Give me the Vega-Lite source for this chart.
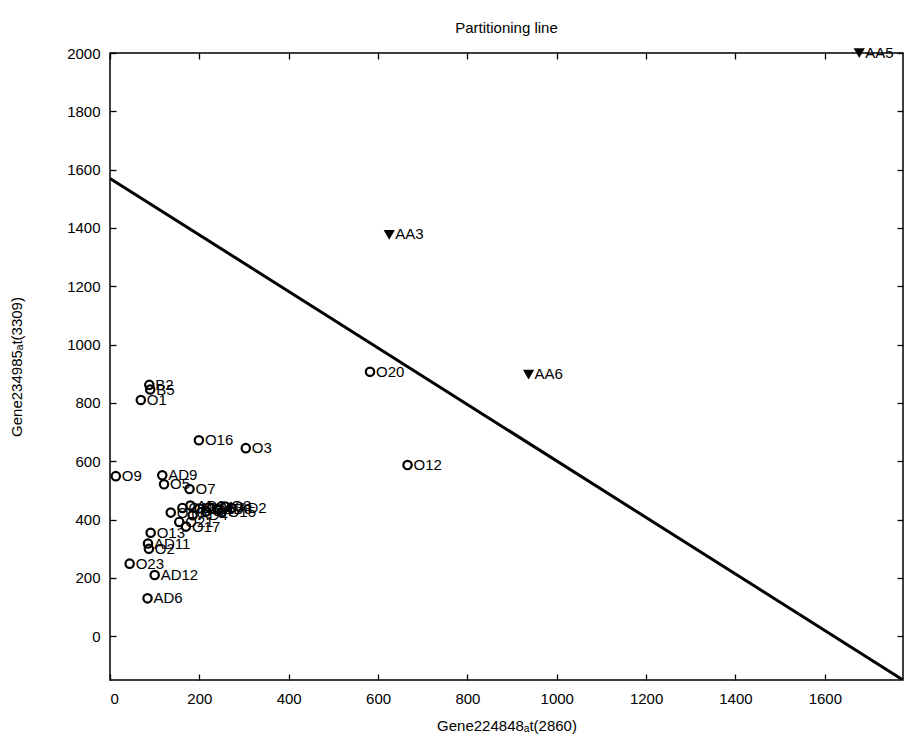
{
  "$schema": "https://vega.github.io/schema/vega-lite/v6.json",
  "width": 793,
  "height": 627,
  "autosize": "none",
  "padding": {"left": 110, "top": 53, "right": 2, "bottom": 67},
  "background": "white",
  "title": {"text": "Partitioning line", "fontSize": 15, "font": "Liberation Sans", "fontWeight": "normal", "color": "black", "offset": 10, "anchor": "middle"},
  "config": {
    "view": {"stroke": "black", "strokeWidth": 1.5},
    "axis": {"labelFont": "Liberation Sans", "labelFontSize": 15, "labelColor": "black", "titleFont": "Liberation Sans", "titleFontSize": 15, "titleFontWeight": "normal", "titleColor": "black", "domain": false, "tickColor": "black", "grid": false, "tickSize": 6, "tickWidth": 1.3, "format": "d"}
  },
  "datasets": {
    "line": [{"x": 0, "y": 1570}, {"x": 1775, "y": -150}],
    "pts": [
      {"name": "AA5", "x": 1677, "y": 2001, "group": "AA"},
      {"name": "AA3", "x": 625, "y": 1378, "group": "AA"},
      {"name": "AA6", "x": 937, "y": 898, "group": "AA"},
      {"name": "O20", "x": 582, "y": 907, "group": "O"},
      {"name": "O12", "x": 666, "y": 587, "group": "O"},
      {"name": "O16", "x": 199, "y": 672, "group": "O"},
      {"name": "O3", "x": 304, "y": 645, "group": "O"},
      {"name": "B2", "x": 88, "y": 862, "group": "O"},
      {"name": "B5", "x": 90, "y": 846, "group": "O"},
      {"name": "O1", "x": 69, "y": 810, "group": "O"},
      {"name": "O9", "x": 13, "y": 549, "group": "O"},
      {"name": "AD9", "x": 117, "y": 552, "group": "O"},
      {"name": "O5", "x": 121, "y": 521, "group": "O"},
      {"name": "O7", "x": 178, "y": 505, "group": "O"},
      {"name": "O10", "x": 136, "y": 424, "group": "O"},
      {"name": "O18", "x": 162, "y": 440, "group": "O"},
      {"name": "AD3", "x": 180, "y": 448, "group": "O"},
      {"name": "O14", "x": 200, "y": 438, "group": "O"},
      {"name": "O19", "x": 222, "y": 442, "group": "O"},
      {"name": "AD8", "x": 240, "y": 436, "group": "O"},
      {"name": "O8", "x": 258, "y": 445, "group": "O"},
      {"name": "AD2", "x": 272, "y": 440, "group": "O"},
      {"name": "O4", "x": 215, "y": 428, "group": "O"},
      {"name": "AD4", "x": 185, "y": 415, "group": "O"},
      {"name": "O15", "x": 250, "y": 425, "group": "O"},
      {"name": "O17", "x": 170, "y": 376, "group": "O"},
      {"name": "O21", "x": 155, "y": 392, "group": "O"},
      {"name": "O13", "x": 91, "y": 355, "group": "O"},
      {"name": "AD11", "x": 85, "y": 318, "group": "O"},
      {"name": "O2", "x": 87, "y": 300, "group": "O"},
      {"name": "O23", "x": 44, "y": 249, "group": "O"},
      {"name": "AD12", "x": 100, "y": 210, "group": "O"},
      {"name": "AD6", "x": 84, "y": 130, "group": "O"}
    ]
  },
  "resolve": {"axis": {"x": "independent", "y": "independent"}},
  "layer": [
    {
      "data": {"name": "line"},
      "mark": {"type": "line", "color": "black", "strokeWidth": 3, "clip": true},
      "encoding": {
        "x": {"field": "x", "type": "quantitative", "scale": {"domain": [0, 1775], "nice": false, "zero": false},
              "axis": {"orient": "bottom", "title": "Gene224848ₐt(2860)", "values": [0, 200, 400, 600, 800, 1000, 1200, 1400, 1600], "ticks": false, "labelPadding": 11, "titlePadding": 12}},
        "y": {"field": "y", "type": "quantitative", "scale": {"domain": [-150, 2000], "nice": false, "zero": false},
              "axis": {"orient": "left", "title": "Gene234985ₐt(3309)", "values": [0, 200, 400, 600, 800, 1000, 1200, 1400, 1600, 1800, 2000], "ticks": false, "labelPadding": 10, "titlePadding": 42}}
      }
    },
    {
      "data": {"name": "line"},
      "mark": {"type": "line", "opacity": 0},
      "encoding": {
        "x": {"field": "x", "type": "quantitative", "axis": {"orient": "bottom", "offset": -6, "title": null, "labels": false, "values": [0, 200, 400, 600, 800, 1000, 1200, 1400, 1600]}},
        "y": {"field": "y", "type": "quantitative", "axis": {"orient": "left", "offset": -6, "title": null, "labels": false, "values": [0, 200, 400, 600, 800, 1000, 1200, 1400, 1600, 1800, 2000]}}
      }
    },
    {
      "data": {"name": "line"},
      "mark": {"type": "line", "opacity": 0},
      "encoding": {
        "x": {"field": "x", "type": "quantitative", "axis": {"orient": "top", "offset": -6, "title": null, "labels": false, "values": [0, 200, 400, 600, 800, 1000, 1200, 1400, 1600]}},
        "y": {"field": "y", "type": "quantitative", "axis": {"orient": "right", "offset": -6, "title": null, "labels": false, "values": [0, 200, 400, 600, 800, 1000, 1200, 1400, 1600, 1800, 2000]}}
      }
    },
    {
      "data": {"name": "pts"},
      "transform": [{"filter": "datum.group === 'O'"}],
      "mark": {"type": "point", "shape": "circle", "filled": false, "stroke": "black", "strokeWidth": 2.2, "size": 70, "opacity": 1, "clip": false},
      "encoding": {
        "x": {"field": "x", "type": "quantitative", "axis": null},
        "y": {"field": "y", "type": "quantitative", "axis": null}
      }
    },
    {
      "data": {"name": "pts"},
      "transform": [{"filter": "datum.group === 'AA'"}],
      "mark": {"type": "point", "shape": "triangle-down", "filled": true, "color": "black", "stroke": "black", "strokeWidth": 1.5, "size": 75, "opacity": 1, "clip": false},
      "encoding": {
        "x": {"field": "x", "type": "quantitative", "axis": null},
        "y": {"field": "y", "type": "quantitative", "axis": null}
      }
    },
    {
      "data": {"name": "pts"},
      "mark": {"type": "text", "align": "left", "baseline": "middle", "dx": 6, "font": "Liberation Sans", "fontSize": 15, "color": "black", "clip": false},
      "encoding": {
        "x": {"field": "x", "type": "quantitative", "axis": null},
        "y": {"field": "y", "type": "quantitative", "axis": null},
        "text": {"field": "name"}
      }
    }
  ]
}
